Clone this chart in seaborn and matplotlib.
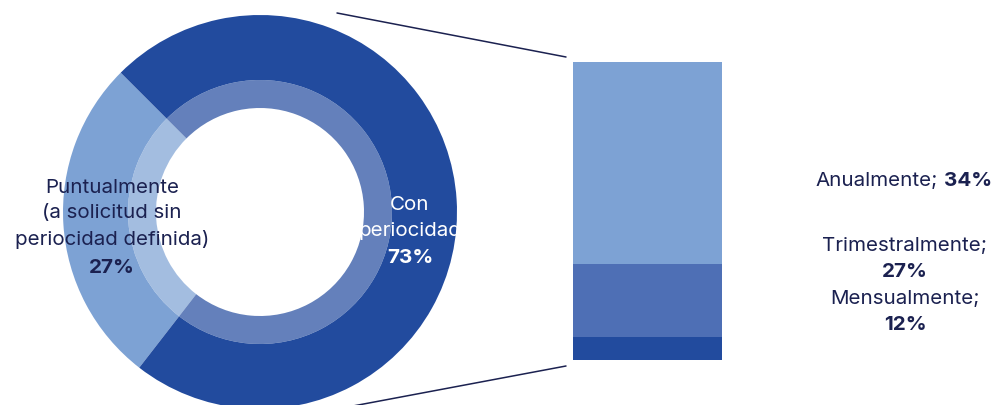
import matplotlib
matplotlib.use("Agg")
import matplotlib.pyplot as plt
import seaborn as sns
import pandas as pd

# ---- data ----
donut_labels = ["Puntualmente\n(a solicitud sin\nperiocidad definida)", "Con\nperiocidad"]
donut_values = [27, 73]
donut_pct_text = ["27%", "73%"]

bar_categories = ["Anualmente", "Trimestralmente", "Mensualmente"]
bar_label_pcts = ["34%", "27%", "12%"]
bar_segment_sizes = [67.8, 24.5, 7.7]   # visual segment heights

# ---- style ----
sns.set_theme(style="white")
plt.rcParams["font.family"] = ["Inter", "DejaVu Sans"]
DARK = "#224B9E"
LIGHT = "#7DA2D4"
MID = "#4E6FB5"
TXT = "#1B2150"

W, H = 1003, 406
fig = plt.figure(figsize=(W / 100, H / 100), dpi=100)
ax = fig.add_axes([0, 0, 1, 1])

cx, cy, R = 260, 193, 197
ax.pie(donut_values, colors=[LIGHT, DARK], startangle=135, counterclock=True,
       center=(cx, cy), radius=R, wedgeprops=dict(width=65, linewidth=0))
ax.pie(donut_values, colors=[LIGHT, DARK], startangle=135, counterclock=True,
       center=(cx, cy), radius=132, wedgeprops=dict(width=28, linewidth=0, alpha=0.7))
ax.set_xlim(0, W)
ax.set_ylim(0, H)
ax.set_aspect("equal")
ax.axis("off")

fs = 14.8
ls = 1.55
# left label
ax.text(112, H - 214, donut_labels[0], ha="center", va="center", fontsize=fs,
        color=TXT, linespacing=ls)
ax.text(112, H - 268, donut_pct_text[0], ha="center", va="center", fontsize=fs,
        color=TXT, fontweight="bold")
# right label
ax.text(410, H - 218, donut_labels[1], ha="center", va="center", fontsize=fs,
        color="white", linespacing=ls)
ax.text(410, H - 258, donut_pct_text[1], ha="center", va="center", fontsize=fs,
        color="white", fontweight="bold")

# ---- stacked bar (seaborn) ----
bx0, bx1, by0, by1 = 573, 722, 45, 343   # bar box in pixels (y from bottom)
bax = fig.add_axes([bx0 / W, by0 / H, (bx1 - bx0) / W, (by1 - by0) / H])
# stack from bottom: Mensualmente, Trimestralmente, Anualmente
order = list(reversed(range(len(bar_categories))))
cum = []
s = 0
for i in order:
    s += bar_segment_sizes[i]
    cum.append(s)
seg_colors = {"Anualmente": LIGHT, "Trimestralmente": MID, "Mensualmente": DARK}
df = pd.DataFrame({"g": ["x"] * 3,
                   "cat": [bar_categories[i] for i in reversed(order)],
                   "top": list(reversed(cum))})
for _, row in df.iterrows():
    sns.barplot(x=[row["g"]], y=[row["top"]], color=seg_colors[row["cat"]],
                width=1.0, ax=bax, saturation=1, linewidth=0)
bax.set_xlim(-0.5, 0.5)
bax.set_ylim(0, sum(bar_segment_sizes))
bax.axis("off")

# connector lines
ax.plot([337, bx0 - 7], [H - 14, by1 + 5], color=TXT, lw=1.1)
ax.plot([337, bx0 - 7], [-4, by0 - 6], color=TXT, lw=1.1)

# right labels
ax.text(938, H - 181, bar_categories[0] + ";", ha="right", va="center", fontsize=fs, color=TXT)
ax.text(944, H - 181, bar_label_pcts[0], ha="left", va="center", fontsize=fs, color=TXT,
        fontweight="bold")
ax.text(905, H - 246, bar_categories[1] + ";", ha="center", va="center", fontsize=fs, color=TXT)
ax.text(905, H - 272, bar_label_pcts[1], ha="center", va="center", fontsize=fs, color=TXT,
        fontweight="bold")
ax.text(905, H - 299, bar_categories[2] + ";", ha="center", va="center", fontsize=fs, color=TXT)
ax.text(905, H - 325, bar_label_pcts[2], ha="center", va="center", fontsize=fs, color=TXT,
        fontweight="bold")

fig.savefig("out.png", dpi=100)
